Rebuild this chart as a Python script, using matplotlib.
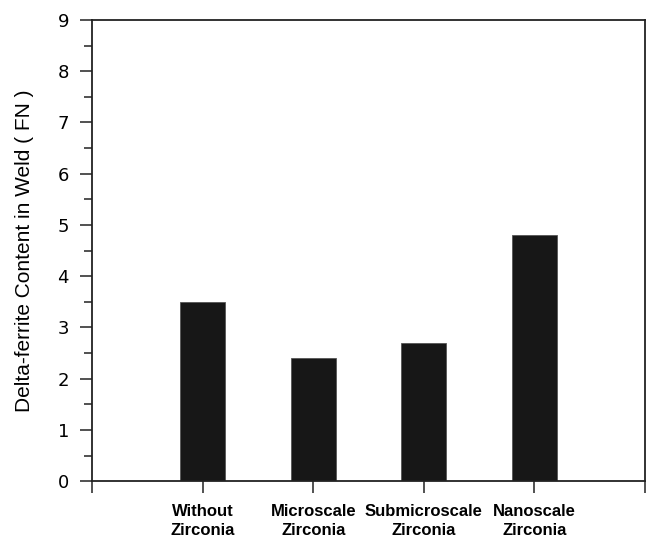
import matplotlib

matplotlib.use("Agg")
import matplotlib.pyplot as plt
from matplotlib.ticker import MultipleLocator

# Delta-ferrite content per weld condition
categories = ["Without\nZirconia", "Microscale\nZirconia", "Submicroscale\nZirconia", "Nanoscale\nZirconia"]
positions = [1, 2, 3, 4]
ferrite_fn = [3.5, 2.4, 2.7, 4.8]
y_ticks = [0, 1, 2, 3, 4, 5, 6, 7, 8, 9]


def main() -> None:
    fig = plt.figure(figsize=(6.46, 5.40), dpi=100)
    ax = fig.add_axes([0.1424, 0.109, 0.8561, 0.854])

    ax.bar(positions, ferrite_fn, width=0.41, color="#171717",
           edgecolor="#555555", linewidth=0.6, zorder=2)

    ax.set_xlim(0, 5)
    ax.set_ylim(0, 9)
    ax.set_xticks([0, 1, 2, 3, 4, 5])
    ax.set_xticklabels([""] + categories + [""], fontfamily="Liberation Sans",
                       fontweight="bold", fontsize=12, linespacing=1.3)
    ax.set_yticks(y_ticks)
    ax.yaxis.set_minor_locator(MultipleLocator(0.5))
    ax.tick_params(axis="y", which="major", direction="out", length=8.6, width=1.1,
                   labelsize=13, pad=8, color="#222222")
    ax.tick_params(axis="y", which="minor", direction="out", length=5.8, width=1.1,
                   color="#222222")
    ax.tick_params(axis="x", which="major", direction="out", length=8.6, width=1.1,
                   pad=8, color="#222222")

    for spine in ax.spines.values():
        spine.set_linewidth(1.3)
        spine.set_color("#222222")

    ax.set_ylabel("Delta-ferrite Content in Weld ( FN )", fontfamily="Liberation Sans",
                  fontsize=15, labelpad=17)

    fig.savefig("out.png", dpi=100)
    plt.close(fig)


if __name__ == "__main__":
    main()
